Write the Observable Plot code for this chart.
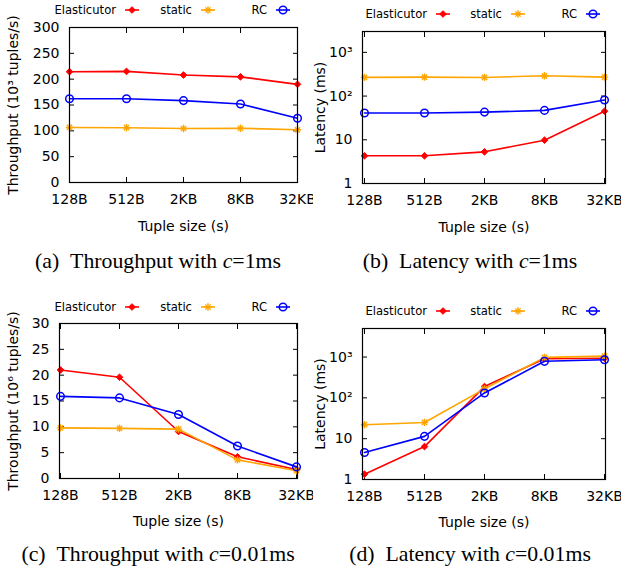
<!DOCTYPE html>
<html><head><meta charset="utf-8">
<script src="https://cdn.jsdelivr.net/npm/d3@7"></script>
<script src="https://cdn.jsdelivr.net/npm/@observablehq/plot@0.6"></script>
<style>
body{margin:0;background:#fff;}
#root{position:relative;width:621px;height:573px;overflow:hidden;font-family:"DejaVu Sans",sans-serif;}
.panel{position:absolute;overflow:hidden;}
.panel svg{overflow:hidden;}
.lg{position:absolute;font:11.6px "DejaVu Sans",sans-serif;line-height:14px;height:14px;white-space:nowrap;text-align:right;color:#000;}
.sw{position:absolute;}
.cap{position:absolute;font-family:"Liberation Serif",serif;font-size:21.8px;line-height:1;white-space:nowrap;transform:translate(-50%,-50%);color:#000;}
</style></head><body><div id="root"></div><script>
// ---- data ----
const sizes = ["128B", "512B", "2KB", "8KB", "32KB"];
const seriesNames = ["Elasticutor", "static", "RC"];
const seriesColors = ["#ff0000", "#ffa500", "#0000ff"];

// (a) throughput, c = 1ms (10^3 tuples/s)
const thrA_elasticutor = [214.5, 215, 208, 204.5, 190];
const thrA_static = [106.5, 106, 104.5, 105, 102];
const thrA_rc = [162, 162, 158.5, 152, 124.5];
// (b) latency, c = 1ms (ms)
const latB_elasticutor = [4.3, 4.3, 5.3, 9.8, 45];
const latB_static = [268, 271, 267, 291, 271];
const latB_rc = [41, 41, 43, 47, 81];
// (c) throughput, c = 0.01ms (10^6 tuples/s)
const thrC_elasticutor = [21.0, 19.6, 9.1, 4.2, 1.75];
const thrC_static = [9.8, 9.7, 9.55, 3.6, 1.5];
const thrC_rc = [15.9, 15.6, 12.4, 6.3, 2.25];
// (d) latency, c = 0.01ms (ms)
const latD_elasticutor = [1.35, 6.4, 189, 910, 930];
const latD_static = [22, 25, 166, 980, 1050];
const latD_rc = [4.6, 11.4, 132, 785, 860];

const thrATicks = [0, 50, 100, 150, 200, 250, 300];
const thrCTicks = [0, 5, 10, 15, 20, 25, 30];
const latTicks = [1, 10, 100, 1000];
const latTickLabels = ["1", "10", "10²", "10³"];

const captions = [
  ["(a)", "Throughput with ", "c", "=1ms"],
  ["(b)", "Latency with ", "c", "=1ms"],
  ["(c)", "Throughput with ", "c", "=0.01ms"],
  ["(d)", "Latency with ", "c", "=0.01ms"]
];

// ---- drawing ----
const root = document.getElementById("root");

function rowsOf(arrs) {
  const rows = [];
  arrs.forEach((vals, si) => vals.forEach((v, i) => rows.push({size: sizes[i], series: seriesNames[si], value: v})));
  return rows;
}

function panel(cfg) {
  const rows = rowsOf(cfg.series);
  const noText = () => "";
  const marks = [
    Plot.axisX({anchor: "bottom", tickSize: 0, tickPadding: 12, label: "Tuple size (s)", labelAnchor: "center", labelArrow: false, labelOffset: cfg.xLabelOffset}),
    Plot.axisX({anchor: "bottom", tickSize: -5, tickFormat: noText, label: null}),
    Plot.axisX({anchor: "top", tickSize: -5, tickFormat: noText, label: null}),
    Plot.axisY({anchor: "left", ticks: cfg.ticks, tickSize: 0, tickPadding: 10, tickFormat: cfg.tickFormat, label: cfg.yLabel, labelAnchor: "center", labelArrow: false, labelOffset: cfg.yLabelOffset}),
    Plot.axisY({anchor: "left", ticks: cfg.ticks, tickSize: -5, tickFormat: noText, label: null}),
    Plot.axisY({anchor: "right", ticks: cfg.ticks, tickSize: -5, tickFormat: noText, label: null}),
  ];
  seriesNames.forEach((name, si) => {
    const d = rows.filter(r => r.series === name);
    marks.push(Plot.line(d, {x: "size", y: "value", stroke: seriesColors[si], strokeWidth: 1.6}));
    if (si === 0) {
      marks.push(Plot.dot(d, {x: "size", y: "value", symbol: "diamond2", r: 3, fill: seriesColors[si], stroke: seriesColors[si], strokeWidth: 1}));
    } else if (si === 1) {
      marks.push(Plot.dot(d, {x: "size", y: "value", symbol: "plus", r: 2.5, stroke: seriesColors[si], strokeWidth: 1.4}));
      marks.push(Plot.dot(d, {x: "size", y: "value", symbol: "times", r: 2.5, stroke: seriesColors[si], strokeWidth: 1.4}));
    } else {
      marks.push(Plot.dot(d, {x: "size", y: "value", symbol: "circle", r: 3.8, fill: "none", stroke: seriesColors[si], strokeWidth: 1.5}));
    }
  });
  marks.push(Plot.frame({stroke: "#000", strokeWidth: 1.2}));

  const svg = Plot.plot({
    width: cfg.w, height: cfg.h,
    marginLeft: cfg.ml, marginRight: cfg.w - cfg.fr, marginTop: cfg.ft, marginBottom: cfg.h - cfg.fb,
    style: {fontFamily: "DejaVu Sans", fontSize: "14px", background: "transparent", color: "#000"},
    x: {type: "point", domain: sizes, padding: 0},
    y: cfg.log ? {type: "log", domain: cfg.domain} : {type: "linear", domain: cfg.domain},
    marks
  });
  const div = document.createElement("div");
  div.className = "panel";
  div.style.left = cfg.left + "px";
  div.style.top = cfg.top + "px";
  div.style.width = cfg.w + "px";
  div.style.height = cfg.h + "px";
  div.appendChild(svg);
  root.appendChild(div);

  // legend (gnuplot-style key above the frame)
  const textRights = cfg.legendRights;
  seriesNames.forEach((name, si) => {
    const t = document.createElement("div");
    t.className = "lg";
    t.textContent = name;
    t.style.left = (cfg.left + textRights[si] - 120) + "px";
    t.style.width = "120px";
    t.style.top = (cfg.top + cfg.legendY - 7) + "px";
    root.appendChild(t);
    const sw = d3.create("svg").attr("class", "sw").attr("width", 16).attr("height", 14)
      .style("left", (cfg.left + textRights[si] + 8) + "px")
      .style("top", (cfg.top + cfg.legendY - 7) + "px");
    sw.append("line").attr("x1", 1).attr("x2", 15).attr("y1", 7).attr("y2", 7).attr("stroke", seriesColors[si]).attr("stroke-width", 1.6);
    const g = sw.append("g").attr("transform", "translate(8,7)");
    if (si === 0) {
      g.append("path").attr("d", d3.symbol(d3.symbolDiamond2, Math.PI * 9)()).attr("fill", seriesColors[si]).attr("stroke", seriesColors[si]);
    } else if (si === 1) {
      g.append("path").attr("d", d3.symbol(d3.symbolPlus, Math.PI * 2.5 * 2.5)()).attr("fill", "none").attr("stroke", seriesColors[si]).attr("stroke-width", 1.4);
      g.append("path").attr("d", d3.symbol(d3.symbolTimes, Math.PI * 2.5 * 2.5)()).attr("fill", "none").attr("stroke", seriesColors[si]).attr("stroke-width", 1.4);
    } else {
      g.append("circle").attr("r", 3.8).attr("fill", "none").attr("stroke", seriesColors[si]).attr("stroke-width", 1.5);
    }
    root.appendChild(sw.node());
  });

  const c = cfg.caption;
  const cap = document.createElement("div");
  cap.className = "cap";
  cap.style.left = cfg.capX + "px";
  cap.style.top = cfg.capY + "px";
  cap.innerHTML = `${c[0]}&ensp;${c[1]}<i>${c[2]}</i>${c[3]}`;
  root.appendChild(cap);
}

const latFormat = d => latTickLabels[latTicks.indexOf(d)] ?? "";

panel({left: 0, top: 0, w: 313, h: 240, ml: 69, fr: 297, ft: 27, fb: 182,
  series: [thrA_elasticutor, thrA_static, thrA_rc], domain: [0, 300], ticks: thrATicks, tickFormat: d => String(d),
  yLabel: "Throughput (10³ tuples/s)", yLabelOffset: 61, xLabelOffset: 48,
  legendY: 10, legendRights: [116, 192, 267], caption: captions[0], capX: 158, capY: 262});
panel({left: 310, top: 0, w: 311, h: 240, ml: 52, fr: 295, ft: 31, fb: 183,
  series: [latB_elasticutor, latB_static, latB_rc], log: true, domain: [1, 3000], ticks: latTicks, tickFormat: latFormat,
  yLabel: "Latency (ms)", yLabelOffset: 47, xLabelOffset: 48,
  legendY: 14, legendRights: [117, 192, 267], caption: captions[1], capX: 470, capY: 262});
panel({left: 0, top: 290, w: 313, h: 250, ml: 59, fr: 297, ft: 33, fb: 188,
  series: [thrC_elasticutor, thrC_static, thrC_rc], domain: [0, 30], ticks: thrCTicks, tickFormat: d => String(d),
  yLabel: "Throughput (10⁶ tuples/s)", yLabelOffset: 51, xLabelOffset: 47,
  legendY: 17, legendRights: [116, 192, 267], caption: captions[2], capX: 158, capY: 555});
panel({left: 310, top: 290, w: 311, h: 250, ml: 52, fr: 295, ft: 38, fb: 189,
  series: [latD_elasticutor, latD_static, latD_rc], log: true, domain: [1, 5000], ticks: latTicks, tickFormat: latFormat,
  yLabel: "Latency (ms)", yLabelOffset: 47, xLabelOffset: 47,
  legendY: 21, legendRights: [117, 192, 267], caption: captions[3], capX: 470, capY: 555});
</script></body></html>
